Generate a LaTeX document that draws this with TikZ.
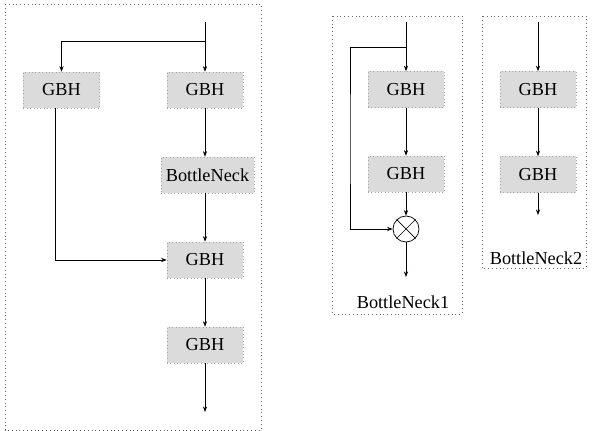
\documentclass[tikz,border=0pt]{standalone}
\usepackage{fontspec}
\setmainfont{Liberation Serif}
\usetikzlibrary{arrows.meta,positioning,calc}

\begin{document}
\begin{tikzpicture}[x=0.025cm,y=-0.025cm,
  blk/.style={draw=gray!70,dotted,fill=gray!28,minimum width=1.9cm,minimum height=0.9cm,
    inner sep=0pt,font=\fontsize{13}{15}\selectfont},
  frame/.style={draw=gray!80!black,dotted,line width=0.7pt},
  flow/.style={-{Stealth[length=4pt,width=3pt]},line width=0.5pt},
  lbl/.style={font=\fontsize{13}{15}\selectfont}]
\useasboundingbox (0,0) rectangle (592,431);
\begin{scope}
  \draw[frame] (5,4) rectangle (261,430);
  \coordinate (in) at (205,22);
  \coordinate (out) at (205,412);
  \node[blk] (g1) at (61.5,90) {GBH};
  \node[blk] (g2) at (205,90) {GBH};
  \node[blk,minimum width=2.325cm] (bn) at (207.5,175) {BottleNeck};
  \node[blk] (g3) at (205,260) {GBH};
  \node[blk] (g4) at (205,345) {GBH};
  \draw[flow] (in) -- (g2);
  \draw[flow] (in |- 0,41) -| (g1);
  \draw[flow] (g2) -- (g2 |- bn.north);
  \draw[flow] (g2 |- bn.south) -- (g3);
  \draw[flow] ([xshift=-6.5*0.025cm]g1.south) |- (g3);
  \draw[flow] (g3) -- (g4);
  \draw[flow] (g4) -- (out);
\end{scope}
\begin{scope}
  \draw[frame] (332,16) rectangle (462,314);
  \coordinate (in1) at (406,22);
  \coordinate (out1) at (406,277);
  \node[blk] (h1) at (406,89.5) {GBH};
  \node[blk] (h2) at (406,174) {GBH};
  \node[draw,circle,minimum size=0.65cm,inner sep=0pt,line width=0.5pt] (mul) at (406,229) {};
  \draw[line width=0.5pt] (mul.north west) -- (mul.south east) (mul.north east) -- (mul.south west);
  \draw[flow] (in1) -- (h1);
  \draw[flow] (h1) -- (h2);
  \draw[flow] (h2) -- (mul);
  \draw[flow] (in1 |- 0,47) -| (350,140) |- (mul);
  \draw[flow] (mul) -- (out1);
  \node[lbl] (bn1) at (403,302) {BottleNeck1};
\end{scope}
\begin{scope}
  \draw[frame] (482,16) rectangle (586,268);
  \coordinate (in2) at (538,22);
  \coordinate (out2) at (538,215);
  \node[blk] (k1) at (538,89.5) {GBH};
  \node[blk] (k2) at (538,174.5) {GBH};
  \draw[flow] (in2) -- (k1);
  \draw[flow] (k1) -- (k2);
  \draw[flow] (k2) -- (out2);
  \node[lbl] (bn2) at (536,258) {BottleNeck2};
\end{scope}
\end{tikzpicture}
\end{document}
